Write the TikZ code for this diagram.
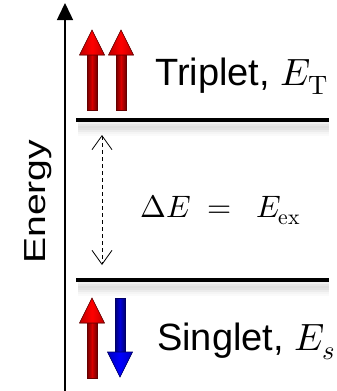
\documentclass[tikz,border=0pt]{standalone}
\usepackage{unicode-math}
\setmainfont{Liberation Sans}
\setmathfont{Latin Modern Math}
\usetikzlibrary{arrows.meta}
\tikzset{
  lvl/.style={line width=4pt, black},
  lbl/.style={font=\fontsize{38}{40}\selectfont, inner sep=0pt},
  spinred/.style={draw=red!40!black, line width=0.6pt, left color=red!45!black, right color=red!45!black, middle color=red!85!black},
  headred/.style={draw=red!40!black, line width=0.6pt, left color=red!75!black, right color=red!75!black, middle color=red},
  spinblue/.style={draw=blue!40!black, line width=0.6pt, left color=blue!45!black, right color=blue!45!black, middle color=blue!85!black},
  headblue/.style={draw=blue!40!black, line width=0.6pt, left color=blue!75!black, right color=blue!75!black, middle color=blue},
}
\newcommand{\upspin}[5]{% x, tip y, bottom y, shaft style, head style
  \fill[#4] (#1-5,#3) -- (#1-5,#2+24) -- (#1+5,#2+24) -- (#1+5,#3) -- cycle;
  \fill[#5] (#1-12.5,#2+25) -- (#1,#2) -- (#1+12.5,#2+25) -- cycle;}
\newcommand{\downspin}[5]{% x, top y, tip y, shaft style, head style
  \fill[#4] (#1-5,#2) -- (#1-5,#3-24) -- (#1+5,#3-24) -- (#1+5,#2) -- cycle;
  \fill[#5] (#1-12.5,#3-25) -- (#1,#3) -- (#1+12.5,#3-25) -- cycle;}
\begin{document}
\begin{tikzpicture}[x=1pt,y=-1pt]
\useasboundingbox (0,0) rectangle (337,391);
% axis
\coordinate (axb) at (65,391);
\coordinate (axt) at (65,3);
\draw[line width=1.5pt, -{Triangle[length=17pt,width=16pt]}] (axb) -- (axt);
\node[lbl, rotate=90, anchor=base west] (energy) at (45,264) {\scalebox{1.03}[0.8]{Energy}};
% level shadows
\foreach \d/\o in {3/0.12,5/0.2,7/0.25,9/0.22,11/0.15,13/0.08,15/0.04}{
  \draw[line width=2.5pt, gray, opacity=\o] (78,120+\d) -- (329,120+\d);
  \draw[line width=2.5pt, gray, opacity=\o] (78,280+\d) -- (329,280+\d);
}
% levels
\coordinate (t1) at (76,120); \coordinate (t2) at (329,120);
\coordinate (s1) at (76,280); \coordinate (s2) at (329,280);
\draw[lvl] (t1) -- (t2);
\draw[lvl] (s1) -- (s2);
% gap arrow
\coordinate (ga) at (102,135); \coordinate (gb) at (102,265);
\draw[line width=0.8pt, dash pattern=on 4pt off 3pt, {Straight Barb[length=14pt,width=20pt,line width=0.8pt]}-{Straight Barb[length=14pt,width=20pt,line width=0.8pt]}] (ga) -- (gb);
\node[inner sep=0pt, anchor=base west, font=\fontsize{31}{33}\selectfont] (gap) at (140,217) {$\Delta E\mkern5mu=\mkern9mu E_{\symup{ex}}$};
% spins
\upspin{92}{30}{110}{spinred}{headred}
\upspin{121}{30}{110}{spinred}{headred}
\upspin{92}{298}{378}{spinred}{headred}
\downspin{120}{298}{377}{spinblue}{headblue}
\node[lbl, anchor=base west] (trip) at (155,85) {Triplet, $E_{\symup{T}}$};
\node[lbl, anchor=base west] (sing) at (157,350) {Singlet, $E_{s}$};
\end{tikzpicture}
\end{document}
